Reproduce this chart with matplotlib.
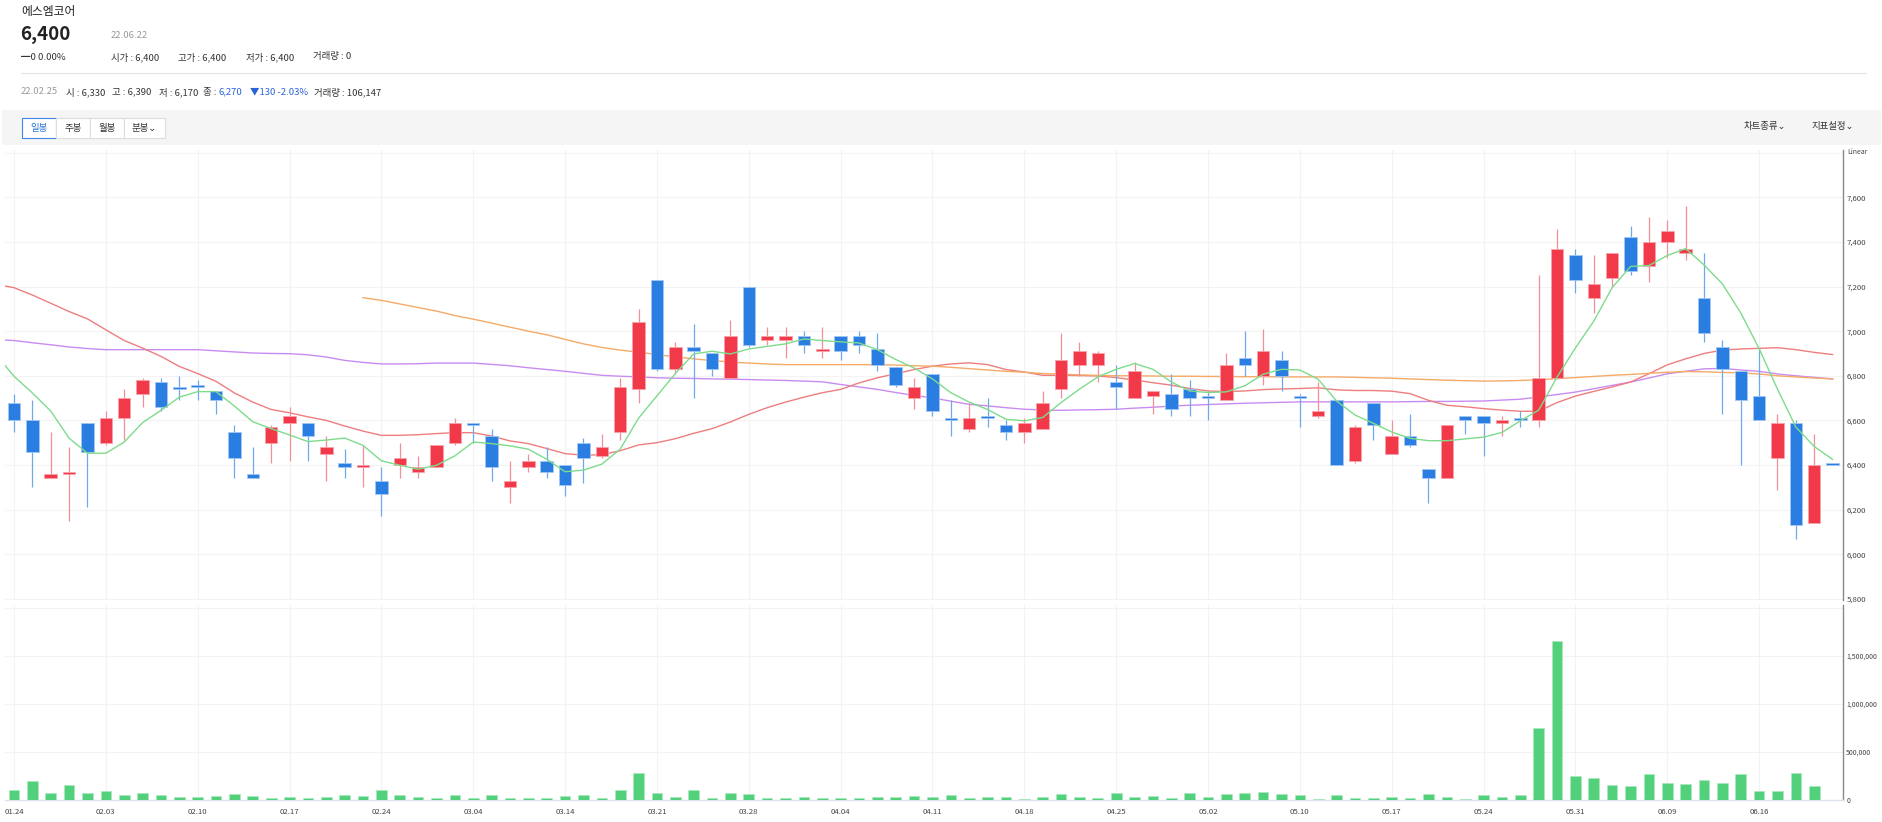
import matplotlib
matplotlib.use('Agg')
import matplotlib.pyplot as plt
from matplotlib.patches import Rectangle
import numpy as np

plt.rcParams['font.family'] = ['Noto Sans CJK KR', 'DejaVu Sans']

W, H = 1883, 822

# tick labels every 5 trading days
date_labels = ['01.24', '02.03', '02.10', '02.17', '02.24', '03.04', '03.14', '03.21', '03.28', '04.04',
               '04.11', '04.18', '04.25', '05.02', '05.10', '05.17', '05.24', '05.31', '06.09', '06.16']

opens = [6680, 6600, 6340, 6360, 6590, 6500, 6610, 6720, 6770, 6750,
         6760, 6730, 6550, 6360, 6500, 6590, 6590, 6450, 6410, 6390,
         6330, 6400, 6370, 6390, 6500, 6590, 6530, 6300, 6390, 6420,
         6400, 6500, 6440, 6550, 6740, 7230, 6830, 6930, 6900, 6790,
         7200, 6960, 6960, 6980, 6910, 6980, 6980, 6920, 6840, 6700,
         6810, 6610, 6560, 6620, 6580, 6550, 6560, 6740, 6850, 6850,
         6770, 6700, 6710, 6720, 6740, 6710, 6690, 6880, 6800, 6870,
         6710, 6620, 6690, 6420, 6680, 6450, 6530, 6380, 6340, 6620,
         6620, 6590, 6610, 6600, 6790, 7340, 7150, 7240, 7420, 7290,
         7400, 7350, 7150, 6930, 6820, 6710, 6430, 6590, 6140, 6400]
highs = [6720, 6690, 6550, 6480, 6590, 6640, 6740, 6790, 6790, 6800,
         6780, 6730, 6580, 6480, 6580, 6660, 6590, 6530, 6470, 6490,
         6390, 6500, 6440, 6490, 6610, 6590, 6560, 6420, 6450, 6480,
         6400, 6520, 6540, 6790, 7100, 7230, 6950, 7030, 6900, 7050,
         7200, 7020, 7020, 7000, 7020, 6980, 7000, 6990, 6840, 6790,
         6810, 6690, 6680, 6700, 6600, 6610, 6730, 6990, 6950, 6910,
         6850, 6860, 6730, 6810, 6780, 6730, 6900, 7000, 7010, 6910,
         6720, 6770, 6690, 6580, 6680, 6600, 6630, 6380, 6580, 6620,
         6620, 6620, 6640, 7250, 7460, 7370, 7340, 7350, 7470, 7510,
         7500, 7560, 7350, 6960, 6820, 6920, 6630, 6600, 6540, 6400]
lows = [6550, 6300, 6340, 6150, 6210, 6490, 6510, 6660, 6640, 6690,
        6690, 6630, 6340, 6340, 6410, 6420, 6420, 6330, 6340, 6300,
        6170, 6340, 6340, 6390, 6490, 6500, 6330, 6230, 6370, 6340,
        6260, 6320, 6430, 6510, 6680, 6820, 6810, 6700, 6800, 6790,
        6930, 6940, 6880, 6900, 6880, 6870, 6900, 6820, 6750, 6650,
        6620, 6530, 6550, 6570, 6510, 6500, 6560, 6700, 6800, 6770,
        6650, 6700, 6630, 6620, 6620, 6600, 6690, 6800, 6760, 6730,
        6570, 6610, 6400, 6410, 6510, 6450, 6480, 6230, 6340, 6540,
        6440, 6530, 6570, 6570, 6790, 7170, 7080, 7200, 7250, 7220,
        7330, 7320, 6950, 6630, 6400, 6600, 6290, 6070, 6140, 6400]
closes = [6600, 6460, 6360, 6370, 6460, 6610, 6700, 6780, 6660, 6740,
          6750, 6690, 6430, 6340, 6570, 6620, 6530, 6480, 6390, 6400,
          6270, 6430, 6390, 6490, 6590, 6580, 6390, 6330, 6420, 6370,
          6310, 6430, 6480, 6750, 7040, 6830, 6930, 6910, 6830, 6980,
          6940, 6980, 6980, 6940, 6920, 6910, 6940, 6850, 6760, 6750,
          6640, 6600, 6610, 6610, 6550, 6590, 6680, 6870, 6910, 6900,
          6750, 6820, 6730, 6650, 6700, 6700, 6850, 6850, 6910, 6800,
          6700, 6640, 6400, 6570, 6580, 6530, 6490, 6340, 6580, 6600,
          6590, 6600, 6600, 6790, 7370, 7230, 7210, 7350, 7270, 7400,
          7450, 7370, 6990, 6830, 6690, 6600, 6590, 6130, 6400, 6400]
volumes = [106000, 192000, 65000, 151000, 65000, 89000, 48000, 65000, 48000, 27000,
           27000, 38000, 58000, 34000, 21000, 27000, 21000, 27000, 45000, 38000,
           106147, 45000, 27000, 21000, 45000, 21000, 45000, 21000, 21000, 21000,
           38000, 51000, 21000, 106000, 277000, 65000, 27000, 99000, 21000, 65000,
           58000, 21000, 14000, 27000, 21000, 21000, 14000, 27000, 27000, 38000,
           27000, 45000, 14000, 31000, 31000, 10000, 31000, 62000, 31000, 17000,
           69000, 31000, 38000, 21000, 69000, 31000, 62000, 69000, 76000, 62000,
           48000, 7000, 52000, 21000, 17000, 31000, 17000, 62000, 31000, 7000,
           48000, 24000, 48000, 745000, 1658000, 248000, 224000, 155000, 138000, 272000,
           176000, 169000, 207000, 176000, 265000, 93000, 93000, 279000, 148000, 0]

# moving averages (first value sits one day before the first candle)
ma5 = [6896,
       6798, 6723, 6642, 6520, 6453, 6453, 6503, 6590, 6645, 6704,
       6729, 6729, 6664, 6594, 6563, 6535, 6505, 6512, 6521, 6488,
       6419, 6399, 6381, 6399, 6441, 6503, 6496, 6486, 6471, 6426,
       6370, 6377, 6404, 6471, 6610, 6710, 6810, 6898, 6910, 6898,
       6920, 6932, 6943, 6965, 6958, 6952, 6947, 6917, 6873, 6835,
       6786, 6724, 6682, 6649, 6605, 6598, 6613, 6680, 6740, 6795,
       6829, 6855, 6829, 6772, 6732, 6725, 6728, 6755, 6807, 6829,
       6826, 6784, 6687, 6624, 6587, 6548, 6520, 6509, 6509, 6517,
       6525, 6546, 6598, 6646, 6794, 6925, 7045, 7195, 7290, 7294,
       7339, 7370, 7297, 7212, 7082, 6922, 6740, 6570, 6483, 6425]
ma20 = [7210,
        7195, 7162, 7125, 7088, 7055, 7006, 6958, 6924, 6887, 6842,
        6810, 6775, 6723, 6682, 6649, 6634, 6616, 6600, 6575, 6552,
        6533, 6533, 6536, 6541, 6545, 6545, 6530, 6508, 6496, 6474,
        6451, 6444, 6446, 6464, 6490, 6500, 6518, 6542, 6563, 6593,
        6627, 6657, 6682, 6704, 6724, 6739, 6768, 6791, 6809, 6828,
        6843, 6853, 6858, 6850, 6828, 6817, 6802, 6802, 6801, 6799,
        6792, 6781, 6769, 6758, 6743, 6732, 6729, 6732, 6738, 6741,
        6743, 6746, 6737, 6734, 6734, 6731, 6720, 6690, 6668, 6661,
        6653, 6646, 6641, 6641, 6680, 6709, 6730, 6750, 6772, 6809,
        6849, 6876, 6900, 6915, 6920, 6923, 6926, 6917, 6905, 6895]
ma60 = [6962,
        6958, 6948, 6939, 6929, 6922, 6917, 6917, 6917, 6917, 6917,
        6917, 6912, 6907, 6902, 6900, 6899, 6894, 6884, 6869, 6860,
        6853, 6853, 6854, 6857, 6857, 6857, 6851, 6845, 6836, 6828,
        6820, 6811, 6802, 6798, 6795, 6791, 6789, 6788, 6786, 6785,
        6783, 6781, 6779, 6776, 6773, 6761, 6750, 6739, 6725, 6712,
        6701, 6686, 6672, 6665, 6657, 6650, 6647, 6645, 6647, 6648,
        6650, 6655, 6659, 6664, 6668, 6671, 6674, 6677, 6679, 6681,
        6683, 6683, 6683, 6683, 6683, 6683, 6684, 6685, 6685, 6686,
        6687, 6691, 6695, 6705, 6716, 6727, 6742, 6757, 6772, 6790,
        6809, 6820, 6831, 6833, 6826, 6820, 6808, 6800, 6793, 6786]
# 120-day line starts at the 20th candle
ma120 = [7150,
         7138, 7122, 7106, 7090, 7070, 7054, 7036, 7018, 7000, 6984,
         6963, 6943, 6927, 6915, 6906, 6895, 6885, 6876, 6868, 6862,
         6857, 6853, 6850, 6850, 6850, 6850, 6850, 6850, 6848, 6845,
         6843, 6838, 6832, 6826, 6820, 6816, 6810, 6807, 6804, 6802,
         6800, 6800, 6799, 6798, 6798, 6797, 6797, 6796, 6796, 6795,
         6795, 6795, 6795, 6793, 6791, 6789, 6786, 6783, 6780, 6778,
         6776, 6777, 6779, 6782, 6787, 6792, 6797, 6802, 6806, 6811,
         6816, 6819, 6818, 6815, 6813, 6808, 6800, 6795, 6790, 6786]

price_ticks = [5800, 6000, 6200, 6400, 6600, 6800, 7000, 7200, 7400, 7600]
vol_ticks = [0, 500000, 1000000, 1500000]


def fx(x):
    return x / W


def fy(y):
    return 1 - y / H


fig = plt.figure(figsize=(W / 100, H / 100), dpi=100)

# ---- header ----
fig.text(fx(21), fy(11), '에스엠코어', fontsize=8.5, color='#222222', va='center')
fig.text(fx(20), fy(34), '6,400', fontsize=13.5, fontweight='bold', color='#222222', va='center')
fig.text(fx(111), fy(36), '22.06.22', fontsize=6.8, color='#9a9a9a', va='center')
fig.text(fx(21), fy(57), '━0 0.00%', fontsize=6.8, color='#333333', va='center')
for xx, s in [(111, '시가 : 6,400'), (178, '고가 : 6,400'), (246, '저가 : 6,400'), (313, '거래량 : 0')]:
    fig.text(fx(xx), fy(57), s, fontsize=6.8, color='#333333', va='center')
fig.add_artist(plt.Line2D([fx(21), fx(1866)], [fy(73), fy(73)], color='#e3e3e3', lw=0.8))

row2 = [(21, '22.02.25', '#9a9a9a'), (66, '시 : 6,330', '#333333'), (112, '고 : 6,390', '#333333'),
        (159, '저 : 6,170', '#333333'), (203, '종 :', '#333333'), (219, '6,270', '#2a63d8'),
        (250, '▼130 -2.03%', '#2a63d8'), (314, '거래량 : 106,147', '#333333')]
for xx, s, c in row2:
    fig.text(fx(xx), fy(92), s, fontsize=6.8, color=c, va='center')

# ---- toolbar ----
fig.add_artist(Rectangle((fx(2), fy(145)), fx(1879), 35 / H, transform=fig.transFigure,
                         facecolor='#f5f5f5', edgecolor='none', zorder=0))
buttons = [(22, 56, '일봉'), (56, 90, '주봉'), (90, 124, '월봉'), (124, 165, '분봉⌄')]
for i, (x0, x1, s) in enumerate(buttons):
    sel = i == 0
    fig.add_artist(Rectangle((fx(x0), fy(138)), (x1 - x0) / W, 20 / H, transform=fig.transFigure,
                             facecolor='white', edgecolor='#3b86e6' if sel else '#dddddd', lw=0.8, zorder=2))
    fig.text(fx((x0 + x1) / 2), fy(128), s, fontsize=6.8, color='#2b74d9' if sel else '#333333',
             ha='center', va='center', zorder=3)
fig.text(fx(1744), fy(127), '차트종류⌄', fontsize=6.8, color='#333333', va='center')
fig.text(fx(1812), fy(127), '지표설정⌄', fontsize=6.8, color='#333333', va='center')

# ---- axes ----
left, right = 5, 1842.7
ax1 = fig.add_axes([fx(left), fy(600), (right - left) / W, 450 / H])
ax2 = fig.add_axes([fx(left), fy(800), (right - left) / W, 195 / H])

n = len(closes)
x = np.arange(n)
o = np.array(opens)
c = np.array(closes)
prev = np.concatenate([[c[0]], c[:-1]])
up = (c > o) | ((c == o) & (c > prev))

red, blue = '#f2394a', '#2a7de1'
red_edge, blue_edge = '#f7a3ab', '#a3c7f3'
red_wick, blue_wick = '#f48f99', '#6da8ec'

body_col = [red if u else blue for u in up]
edge_col = [red_edge if u else blue_edge for u in up]
wick_col = [red_wick if u else blue_wick for u in up]

ax1.vlines(x, lows, highs, colors=wick_col, lw=0.9, zorder=3)
bottoms = np.minimum(o, c)
heights = np.maximum(np.abs(c - o), 8)
ax1.bar(x, heights, bottom=bottoms, width=0.68, color=body_col, edgecolor=edge_col, lw=0.6, zorder=4)

ma_x = np.arange(-1, n)
ax1.plot(ma_x, ma60, color='#c88cf0', lw=1.0, zorder=2)
ax1.plot(ma_x, ma20, color='#ee7e7e', lw=1.0, zorder=2)
ax1.plot(np.arange(19, n), ma120, color='#f5aa66', lw=1.0, zorder=2)
ax1.plot(ma_x, ma5, color='#7edb8c', lw=1.0, zorder=5)

xl = (-0.49, 99.55)
ax1.set_xlim(*xl)
ax1.set_ylim(5795, 7812)
ax1.set_yticks(price_ticks)
ax1.set_yticklabels([f'{t:,}' for t in price_ticks])
ax1.yaxis.tick_right()
ax1.tick_params(axis='y', length=0, pad=3, labelsize=5.6, labelcolor='#444444')
ax1.set_xticks([])
for yv in price_ticks + [7800]:
    ax1.axhline(yv, color='#f3f3f3', lw=0.8, zorder=0)
for i in range(0, n, 5):
    ax1.axvline(i, color='#f3f3f3', lw=0.8, zorder=0)
for s in ['top', 'left', 'bottom']:
    ax1.spines[s].set_visible(False)
ax1.spines['right'].set_color('#888888')
ax1.spines['right'].set_linewidth(1.0)
fig.text(fx(1847), fy(152), 'Linear', fontsize=5, color='#444444', va='center')

# volume panel
ax2.bar(x, volumes, width=0.58, color='#52d07c', edgecolor='#a9e9be', lw=0.5, zorder=3)
ax2.set_xlim(*xl)
ax2.set_ylim(-3131, 2032280)
ax2.set_yticks(vol_ticks)
ax2.set_yticklabels([f'{t:,}' for t in vol_ticks])
ax2.yaxis.tick_right()
ax2.tick_params(axis='y', length=0, pad=2.5, labelsize=5.0, labelcolor='#444444')
ax2.set_xticks(list(range(0, n, 5)))
ax2.set_xticklabels(date_labels)
ax2.tick_params(axis='x', length=0, pad=5.5, labelsize=5.6, labelcolor='#444444')
for yv in [500000, 1000000, 1500000, 2000000]:
    ax2.axhline(yv, color='#f3f3f3', lw=0.8, zorder=0)
for i in range(0, n, 5):
    ax2.axvline(i, color='#f3f3f3', lw=0.8, zorder=0)
for s in ['top', 'left']:
    ax2.spines[s].set_visible(False)
ax2.spines['bottom'].set_color('#dde2ea')
ax2.spines['bottom'].set_linewidth(1.0)
ax2.spines['right'].set_color('#888888')
ax2.spines['right'].set_linewidth(1.0)

fig.savefig('out.png', dpi=100)
